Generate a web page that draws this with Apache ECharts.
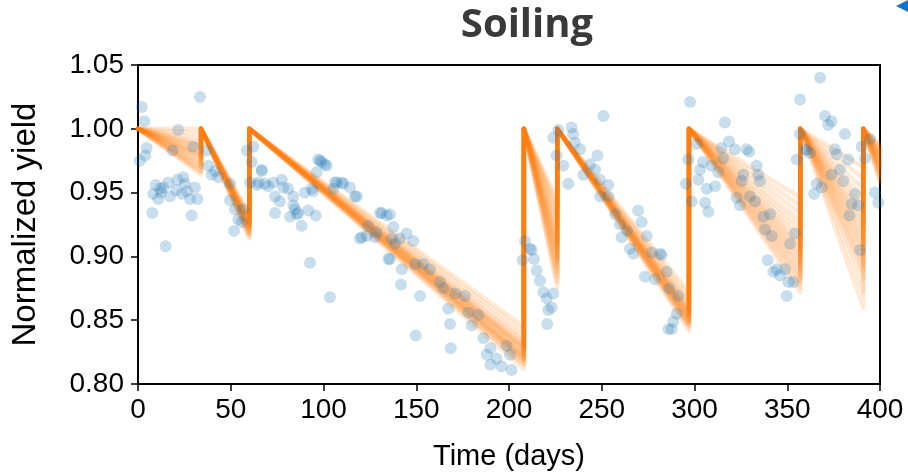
<!DOCTYPE html>
<html>
<head>
<meta charset="utf-8">
<script src="https://cdn.jsdelivr.net/npm/echarts@6/dist/echarts.min.js"></script>
<style>
html,body{margin:0;padding:0;background:#fff;}
#chart{width:908px;height:476px;}
</style>
</head>
<body>
<div id="chart"></div>
<script>
// ---- data ----
const xTicks = [0, 50, 100, 150, 200, 250, 300, 350, 400];
const yTicks = [0.80, 0.85, 0.90, 0.95, 1.00, 1.05];

// cleaning events: segment boundaries (days)
const cleaningDays = [0, 34, 60, 208, 226, 297, 357, 391, 400];

// ensemble end-of-segment values (normalized yield just before each cleaning)
const seg1End = [1.000, 0.996, 0.992, 0.989, 0.986, 0.984, 0.981, 0.979, 0.977, 0.975, 0.973, 0.972, 0.970, 0.969, 0.967, 0.966, 0.964, 0.982, 0.987, 0.978];
const seg2End = [0.925, 0.922, 0.928, 0.919, 0.931, 0.924, 0.916, 0.927, 0.921, 0.934, 0.918, 0.926, 0.923, 0.929, 0.914, 0.920, 0.925, 0.930, 0.917, 0.924];
const seg3End = [0.812, 0.815, 0.818, 0.820, 0.822, 0.824, 0.826, 0.828, 0.830, 0.832, 0.834, 0.837, 0.841, 0.845, 0.819, 0.823, 0.827, 0.816, 0.829, 0.821];
const seg4End = [0.876, 0.880, 0.884, 0.888, 0.892, 0.896, 0.900, 0.904, 0.908, 0.912, 0.916, 0.920, 0.924, 0.928, 0.932, 0.936, 0.940, 0.944, 0.898, 0.910];
const seg5End = [0.842, 0.844, 0.846, 0.848, 0.849, 0.850, 0.851, 0.852, 0.853, 0.855, 0.856, 0.858, 0.860, 0.862, 0.865, 0.868, 0.872, 0.847, 0.854, 0.857];
const seg6End = [0.872, 0.876, 0.880, 0.883, 0.886, 0.889, 0.892, 0.895, 0.898, 0.901, 0.904, 0.907, 0.910, 0.914, 0.918, 0.923, 0.928, 0.934, 0.940, 0.946];
const seg7End = [0.860, 0.872, 0.882, 0.888, 0.893, 0.897, 0.902, 0.906, 0.910, 0.914, 0.918, 0.922, 0.926, 0.930, 0.935, 0.940, 0.946, 0.953, 0.961, 0.970];
const seg8End = [0.960, 0.963, 0.966, 0.968, 0.970, 0.972, 0.974, 0.976, 0.978, 0.980, 0.982, 0.984, 0.986, 0.988, 0.965, 0.971, 0.975, 0.979, 0.983, 0.958];
const cleanLevel = 1.0;

// measured normalized yield [day, value]
const measuredPoints = [
 [2,1.017],[3.4,1.006],[33.4,1.025],[21.7,0.999],[4.7,0.985],[3.9,0.979],[1,0.975],[18.7,0.983],[29.8,0.986],[37,0.983],
 [38,0.971],[41.5,0.967],[9.5,0.956],[11.9,0.953],[13.6,0.954],[16.3,0.958],[21.4,0.960],[24.4,0.962],[25.3,0.957],[30.7,0.954],
 [8.2,0.949],[10.9,0.945],[17.3,0.947],[23.6,0.949],[28,0.945],[32,0.945],[7.7,0.934],[28.9,0.932],[14.9,0.908],[39.7,0.964],
 [43.3,0.962],[49.6,0.957],[49.6,0.944],[52.3,0.937],[54.1,0.929],[56.8,0.937],[55.9,0.927],[51.8,0.920],[58.6,0.983],[61.3,0.974],
 [60.4,0.958],[64.9,0.958],[66.7,0.967],[62.2,0.986],[20.5,0.952],[26.5,0.951],[12.5,0.950],
 [64,0.956],[68.5,0.957],[70.2,0.955],[73,0.958],[77.5,0.960],[78.3,0.954],[81,0.953],[66.7,0.968],[73.9,0.947],[76.5,0.943],
 [83.7,0.947],[73.9,0.934],[82,0.931],[83.7,0.940],[86.4,0.934],[88.2,0.924],[90,0.950],[93.6,0.953],[91.8,0.936],[95.8,0.932],
 [97.2,0.976],[99,0.974],[101.7,0.971],[105.3,0.953],[107.1,0.958],[110.7,0.957],[114.3,0.954],[117.9,0.947],[119.7,0.914],[123.3,0.916],
 [128.7,0.919],[130.5,0.934],[134.1,0.932],[135,0.898],[92.7,0.895],[103.5,0.868],[98.1,0.975],[100.8,0.972],[96.3,0.966],[106.2,0.958],
 [109.8,0.958],[117,0.947],[94.5,0.951],[84.6,0.937],[85.5,0.933],[120.6,0.915],[131.4,0.934],[137.6,0.923],[141.2,0.914],[142.2,0.890],
 [141.8,0.878],[124.1,0.924],[127.8,0.915],[136.7,0.914],
 [135.8,0.933],[144.8,0.918],[148.4,0.912],[138.5,0.910],[152,0.869],[149.3,0.894],[153.8,0.894],[157.4,0.890],[162.8,0.880],[164.6,0.875],
 [171,0.871],[176.3,0.869],[167.3,0.859],[168.2,0.847],[149.7,0.838],[168.6,0.828],[178.1,0.856],[183.5,0.854],[179.9,0.846],[186.2,0.836],
 [190,0.828],[188,0.823],[193.3,0.820],[198.7,0.830],[200.5,0.823],[190,0.815],[196,0.814],[201.4,0.811],[135.8,0.898],
 [208.6,0.912],[207.4,0.897],[212.2,0.905],[211.3,0.906],[213.5,0.898],[214.9,0.889],[216.7,0.881],[218.5,0.872],[220.3,0.867],[223.9,0.871],
 [223,0.860],[221.2,0.858],[220.6,0.847],
 [223.9,0.993],[226.6,0.999],[233.7,1.001],[234.6,0.996],[235.5,0.989],[225.7,0.979],[229.3,0.971],[232,0.957],[238.3,0.984],[247.7,0.979],
 [250.9,1.010],[240.1,0.964],[243.7,0.972],[246.4,0.968],[249.1,0.960],[253.5,0.947],[257.2,0.933],[259.8,0.925],[260.7,0.915],[269.6,0.936],
 [271.5,0.927],[274.2,0.916],[265.2,0.906],[267,0.902],[276.9,0.903],[281.4,0.902],[273.3,0.884],[278.7,0.882],[285,0.888],[285.9,0.843],
 [263.6,0.920],[253.5,0.956],[249.1,0.947],[282.3,0.901],[286.4,0.875],[291.3,0.869],[290.4,0.855],[288.6,0.849],[287.7,0.843],
 [297.6,1.021],[316.4,1.005],[296.7,0.976],[295.4,0.957],[298.5,0.943],[301.2,0.988],[303,0.968],[302.1,0.960],[305.7,0.942],[307.5,0.935],
 [306.6,0.953],[311.1,0.955],[304.6,0.974],[309.1,0.971],[314.5,0.985],[318.6,0.990],[321.7,0.984],[315.5,0.977],[312.8,0.966],[326.3,0.964],
 [328.1,0.984],[329.5,0.982],[333.5,0.971],[334.4,0.964],[335.3,0.959],[325.4,0.959],[322.7,0.946],[324.5,0.940],[329.9,0.947],[332.6,0.943],
 [340.7,0.933],[337.1,0.931],[338,0.921],[341.6,0.916],[354.2,0.918],[351.5,0.910],[339.4,0.897],[342.5,0.888],[346.1,0.885],[348.8,0.890],
 [350.6,0.880],[353.3,0.880],[349.7,0.869],[344.3,0.890],
 [356.9,1.023],[356.9,0.996],[355.1,0.976],[360.5,0.983],[367.7,1.040],[370.4,1.010],[373.9,1.006],[372.1,1.003],[381.1,0.996],[359.6,0.984],
 [362.3,0.981],[375.7,0.984],[376.6,0.980],[382.9,0.976],[373.9,0.964],[378.4,0.968],[380.2,0.959],[365.9,0.957],[368.6,0.954],[364.5,0.949],
 [386.5,0.949],[384.7,0.941],[388.3,0.940],[383.5,0.932],[390.1,0.986],[391.9,0.977],[394.6,0.992],[397.3,0.950],[399.1,0.942],[389.2,0.905]
];

// ---- build ensemble sawtooth lines ----
const segEnds = [seg1End, seg2End, seg3End, seg4End, seg5End, seg6End, seg7End, seg8End];
const nMembers = seg1End.length;
const ensembleSeries = [];
for (let k = 0; k < nMembers; k++) {
  const pts = [];
  for (let s = 0; s < segEnds.length; s++) {
    pts.push([cleaningDays[s], cleanLevel]);
    pts.push([cleaningDays[s + 1], segEnds[s][k]]);
  }
  ensembleSeries.push({
    type: 'line', data: pts, symbol: 'none', silent: true, z: 2,
    lineStyle: { color: '#ff7f0e', width: 4.5, opacity: 0.16, join: 'round', cap: 'round' },
    animation: false
  });
}

const chart = echarts.init(document.getElementById('chart'), null, { renderer: 'canvas' });
const FONT = '"Liberation Sans", Arial, Helvetica, sans-serif';
chart.setOption({
  animation: false,
  backgroundColor: '#fff',
  grid: { left: 138, right: 28, top: 65, bottom: 90, show: true, borderColor: '#000', borderWidth: 2, backgroundColor: 'transparent' },
  xAxis: {
    type: 'value', min: xTicks[0], max: xTicks[xTicks.length - 1], interval: 50,
    name: 'Time (days)', nameLocation: 'middle', nameGap: 58,
    nameTextStyle: { fontFamily: FONT, fontSize: 29, color: '#000' },
    axisLine: { show: true, lineStyle: { color: '#000', width: 2 } },
    axisTick: { show: true, inside: false, length: 7, lineStyle: { color: '#000', width: 1.5 } },
    axisLabel: { fontFamily: FONT, fontSize: 28, color: '#000', margin: 12 },
    splitLine: { show: false }
  },
  yAxis: {
    type: 'value', min: yTicks[0], max: yTicks[yTicks.length - 1], interval: 0.05,
    name: 'Normalized yield', nameLocation: 'middle', nameGap: 96, nameRotate: 90,
    nameTextStyle: { fontFamily: FONT, fontSize: 33, color: '#000' },
    axisLine: { show: true, lineStyle: { color: '#000', width: 2 } },
    axisTick: { show: true, inside: false, length: 7, lineStyle: { color: '#000', width: 1.5 } },
    axisLabel: { fontFamily: FONT, fontSize: 28, color: '#000', margin: 14, formatter: v => v.toFixed(2) },
    splitLine: { show: false }
  },
  graphic: [
    { type: 'text', x: 527, y: 6, style: { text: 'Soiling', font: 'bold 40px "Open Sans", sans-serif', fill: '#3a3a3a', textAlign: 'center', align: 'center', verticalAlign: 'top', textVerticalAlign: 'top' } },
    { type: 'polygon', shape: { points: [[896, 6], [908, 0], [908, 12]] }, style: { fill: '#1673c9' } }
  ],
  series: ensembleSeries.concat([{
    type: 'scatter', data: measuredPoints, symbolSize: 12, z: 3, silent: true,
    itemStyle: { color: '#1f77b4', opacity: 0.24 }
  }])
});
</script>
</body>
</html>
